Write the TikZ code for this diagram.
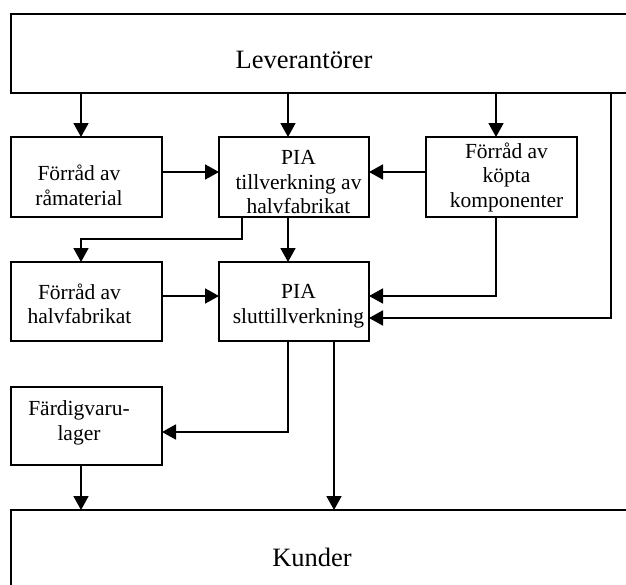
\documentclass[tikz,border=0pt]{standalone}
\usepackage{fontspec}
\setmainfont{Liberation Serif}
\usetikzlibrary{arrows.meta}
\begin{document}
\begin{tikzpicture}[x=1pt,y=-1pt,
  unit/.style={draw, line width=1.9pt, rectangle, outer sep=0pt, inner sep=0pt,
    minimum width=151pt, minimum height=80pt},
  txt/.style={align=center, inner sep=0pt, font=\fontsize{21.5pt}{24.5pt}\selectfont},
  bigtxt/.style={inner sep=0pt, font=\fontsize{26.5pt}{30pt}\selectfont},
  flow/.style={line width=1.8pt, -{Triangle[length=14pt,width=15pt]}}]
\useasboundingbox (0,0) rectangle (626,584);

% columns and rows used by the connectors
\coordinate (cA) at (81,0);
\coordinate (cB) at (288,0);
\coordinate (cC) at (496,0);
\coordinate (cD) at (242,0);
\coordinate (cE) at (334,0);
\coordinate (cR) at (611,0);
\coordinate (rA) at (0,172);
\coordinate (rB) at (0,239);
\coordinate (rC) at (0,296);
\coordinate (rD) at (0,318);
\coordinate (rE) at (0,432);

% suppliers and customers
\node[unit, minimum width=630pt, minimum height=79pt,
  label={[bigtxt,xshift=-22pt,yshift=-6.7pt]center:Leverantörer}] (lev) at (326,53.5) {};
\node[unit, minimum width=630pt, minimum height=94pt,
  label={[bigtxt,xshift=-14pt,yshift=0pt]center:Kunder}] (kund) at (326,557) {};

% first row
\node[unit, label={[txt,xshift=-7.5pt,yshift=-8.5pt]center:{Förråd av\\råmaterial}}] (raw) at (86.5,177) {};
\node[unit, minimum width=150pt,
  label={[txt,xshift=4.5pt,yshift=-5.4pt]center:{PIA\\tillverkning av\\halvfabrikat}}] (pia1) at (294,177) {};
\node[unit, label={[txt,xshift=5pt,yshift=0pt]center:{Förråd av\\köpta\\komponenter}}] (buy) at (501.5,177) {};

% second row
\node[unit, minimum height=79pt,
  label={[txt,xshift=-7pt,yshift=-2.5pt]center:{Förråd av\\halvfabrikat}}] (semi) at (86.5,301.5) {};
\node[unit, minimum width=150pt, minimum height=79pt,
  label={[txt,xshift=4.5pt,yshift=-4.8pt]center:{PIA\\sluttillverkning}}] (pia2) at (294,301.5) {};

% finished goods store
\node[unit, minimum height=78pt,
  label={[txt,xshift=-7.5pt,yshift=3pt]center:{Färdigvaru-\\lager}}] (fin) at (86.5,426) {};

% material flows
\draw[flow] (lev.south -| cA) -- (raw.north -| cA);
\draw[flow] (lev.south -| cB) -- (pia1.north -| cB);
\draw[flow] (lev.south -| cC) -- (buy.north -| cC);
\draw[flow] (raw.east |- rA) -- (pia1.west |- rA);
\draw[flow] (buy.west |- rA) -- (pia1.east |- rA);
\draw[flow] (pia1.south -| cD) -- (cD |- rB) -| (semi.north -| cA);
\draw[flow] (pia1.south -| cB) -- (pia2.north -| cB);
\draw[flow] (buy.south -| cC) |- (pia2.east |- rC);
\draw[flow] (semi.east |- rC) -- (pia2.west |- rC);
\draw[flow] (lev.south -| cR) |- (pia2.east |- rD);
\draw[flow] (pia2.south -| cB) |- (fin.east |- rE);
\draw[flow] (pia2.south -| cE) -- (kund.north -| cE);
\draw[flow] (fin.south -| cA) -- (kund.north -| cA);
\end{tikzpicture}
\end{document}
